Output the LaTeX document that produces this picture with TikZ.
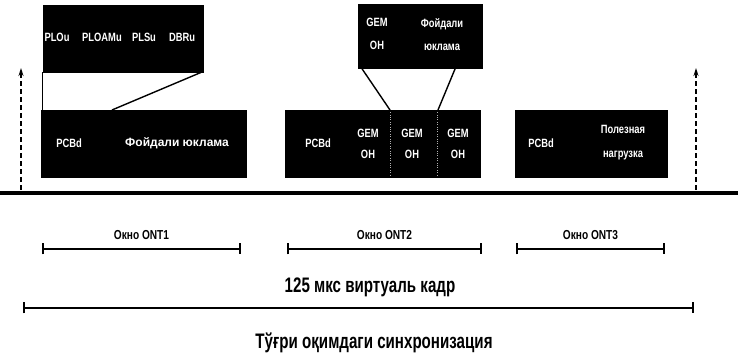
\documentclass[tikz,border=0pt]{standalone}
\usepackage{fontspec}
\setmainfont{Liberation Sans}
\newfontfamily\narrowfont[FakeStretch=0.78]{Liberation Sans}
\newfontfamily\tallfont[FakeStretch=0.72]{Liberation Sans}
\usetikzlibrary{arrows.meta,calc,positioning}

\begin{document}
\begin{tikzpicture}[x=1pt,y=1pt, every node/.style={inner sep=0pt},
  framebox/.style={draw=black, fill=black, line width=0.6pt, anchor=center},
  celltxt/.style={text=white, font=\narrowfont\bfseries\fontsize{12}{14}\selectfont, align=center, anchor=center},
  widetxt/.style={celltxt, font=\bfseries\fontsize{12}{14}\selectfont},
  explode/.style={draw=black, line width=1.4pt},
  sepline/.style={draw=gray!60, line width=0.4pt, dotted},
  span/.style={draw=black, line width=1.4pt, {Bar[width=11pt,line width=2.2pt]}-{Bar[width=11pt,line width=2.2pt]}},
  spantxt/.style={font=\narrowfont\bfseries\fontsize{13}{15}\selectfont, anchor=center},
  bigtxt/.style={font=\tallfont\bfseries\fontsize{21}{24}\selectfont, anchor=center},
  marker/.style={draw=black, line width=1.2pt, dash pattern=on 5pt off 3pt, -{Stealth[length=8pt,width=5pt]}}]
\useasboundingbox (0,0) rectangle (738,353);
% time axis
\coordinate (axisL) at (0,160);
\coordinate (axisR) at (738,160);
\draw[line width=3.6pt] (axisL) -- (axisR);
\coordinate (markLb) at (21,163); \coordinate (markLt) at (21,285);
\coordinate (markRb) at (696,163); \coordinate (markRt) at (696,285);
\draw[marker] (markLb) -- (markLt);
\draw[marker] (markRb) -- (markRt);
% ONT1 burst
\node[framebox, minimum width=205pt, minimum height=67pt] (ontA) at (143.5,209.5) {};
\node[celltxt] (ontApcb) at (69,210) {PCBd};
\node[widetxt] (ontApay) at (177,210) {Фойдали юклама};
\node[framebox, minimum width=160pt, minimum height=67pt] (ontAzoom) at (123,314.5) {};
\node[celltxt] (zoomAplo) at (57,316) {PLOu};
\node[celltxt] (zoomAploam) at (102,316) {PLOAMu};
\node[celltxt] (zoomApls) at (144,316) {PLSu};
\node[celltxt] (zoomAdbr) at (182,316) {DBRu};
\coordinate (ontAcut) at (112,243);
\draw[explode, line width=0.6pt] (ontAzoom.south west) -- (ontAzoom.south west |- ontA.north);
\draw[explode] ($(ontAzoom.south east)+(-2,0)$) -- (ontAcut);
% ONT2 burst
\node[framebox, minimum width=195pt, minimum height=67pt] (ontB) at (382.5,209.5) {};
\node[celltxt] (ontBpcb) at (318,210) {PCBd};
\node[celltxt] (ontBgemA) at (368,209) {GEM\\[7pt]OH};
\node[celltxt] (ontBgemB) at (412,209) {GEM\\[7pt]OH};
\node[celltxt] (ontBgemC) at (458,209) {GEM\\[7pt]OH};
\draw[sepline] (390,178) -- (390,241);
\draw[sepline] (437,178) -- (437,241);
\node[framebox, minimum width=124pt, minimum height=64pt] (ontBzoom) at (420,317) {};
\node[celltxt, anchor=north] (zoomBgem) at (377,335) {GEM\\[9pt]OH};
\node[celltxt, anchor=north] (zoomBpay) at (442,335) {Фойдали\\[9pt]юклама};
\coordinate (ontBcutL) at (390,243);
\coordinate (ontBcutR) at (438,243);
\draw[explode] ($(ontBzoom.south west)+(4,0)$) -- (ontBcutL);
\draw[explode] ($(ontBzoom.south east)+(-27,0)$) -- (ontBcutR);
% ONT3 burst
\node[framebox, minimum width=152pt, minimum height=67pt] (ontC) at (591,209.5) {};
\node[celltxt] (ontCpcb) at (541,210) {PCBd};
\node[celltxt] (ontCpay) at (623,210) {Полезная\\[10pt]нагрузка};
% windows
\node[spantxt] (winA) at (141.5,118) {Окно ONT1};
\node[spantxt] (winB) at (384.5,118) {Окно ONT2};
\node[spantxt] (winC) at (590.5,118) {Окно ONT3};
\coordinate (winAl) at (42,104); \coordinate (winAr) at (241,104);
\coordinate (winBl) at (287,104); \coordinate (winBr) at (482,104);
\coordinate (winCl) at (516,104); \coordinate (winCr) at (665,104);
\draw[span] (winAl) -- (winAr);
\draw[span] (winBl) -- (winBr);
\draw[span] (winCl) -- (winCr);
% virtual frame
\node[bigtxt] (frameLbl) at (370,66) {125 мкс виртуаль кадр};
\coordinate (frameL) at (23,45); \coordinate (frameR) at (694,45);
\draw[span] (frameL) -- (frameR);
\node[bigtxt] (syncLbl) at (374,10) {Тўғри оқимдаги синхронизация};
\end{tikzpicture}
\end{document}
